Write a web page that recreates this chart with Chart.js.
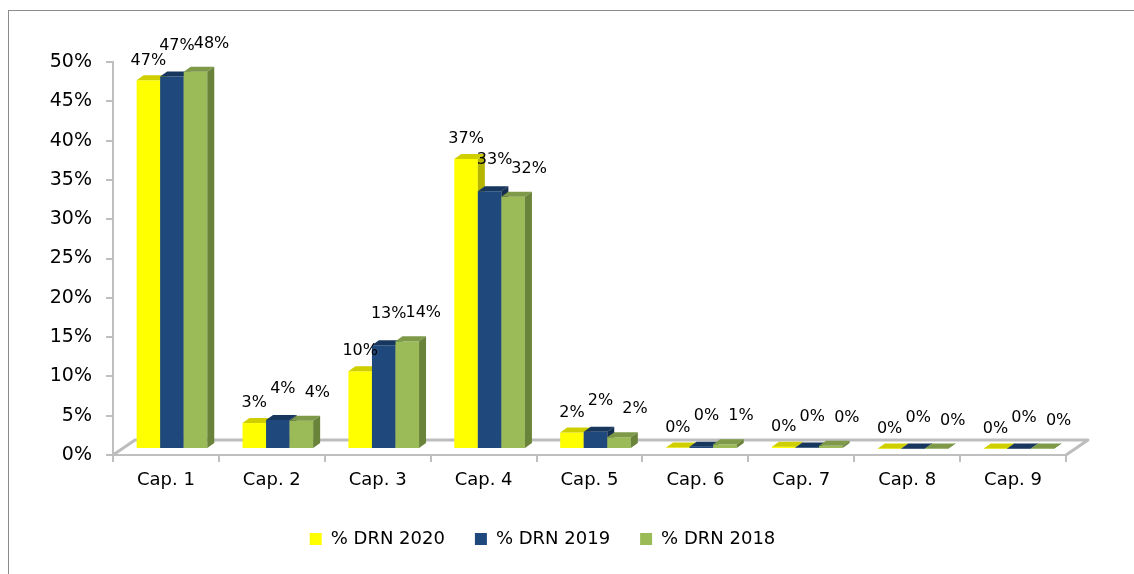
<!DOCTYPE html>
<html>
<head>
<meta charset="utf-8">
<script src="https://cdn.jsdelivr.net/npm/chart.js@4.4.1/dist/chart.umd.min.js"></script>
<style>
  html, body { margin: 0; padding: 0; background: #fff; overflow: hidden; }
  #frame { position: absolute; left: 8px; top: 10px; width: 1200px; height: 700px; border: 1px solid #8c8c8c; }
  #wrap { position: absolute; left: 0; top: 0; width: 1134px; height: 574px; }
</style>
</head>
<body>
<div id="frame"></div>
<div id="wrap"><canvas id="chart" width="1134" height="574"></canvas></div>
<script>
// Datos (porcentaje de DRN por capítulo)
const categories = ['Cap. 1', 'Cap. 2', 'Cap. 3', 'Cap. 4', 'Cap. 5', 'Cap. 6', 'Cap. 7', 'Cap. 8', 'Cap. 9'];
const seriesNames = ['% DRN 2020', '% DRN 2019', '% DRN 2018'];
const drn2020 = [46.9, 3.3, 9.9, 36.9, 2.1, 0.2, 0.3, 0.05, 0.05];
const drn2019 = [47.4, 3.7, 13.2, 32.8, 2.2, 0.3, 0.2, 0.05, 0.05];
const drn2018 = [48.0, 3.6, 13.7, 32.1, 1.5, 0.6, 0.4, 0.05, 0.05];
const yMin = 0, yMax = 50, yStep = 5;

// Colores: frente, tapa, lateral
const front = ['#FFFF00', '#1F497D', '#9BBB59'];
const top3d = ['#CFCF00', '#17375E', '#7E9A48'];
const side3d = ['#B5B500', '#132E4F', '#6A833A'];

// Desplazamientos para el efecto 3D
const DEPTH_X = 7, DEPTH_Y = 5;
const FLOOR_X = 22, FLOOR_Y = 15;
const SHIFT_X = 6, SHIFT_Y = -6;
const labelOffsets = [{ dx: 0, dy: -20 }, { dx: 5, dy: -31 }, { dx: 16, dy: -28 }];

const fontFamily = '"DejaVu Sans", Verdana, sans-serif';

// Plugin: piso 3D y barras con tapa y lateral
const bars3d = {
  id: 'bars3d',
  beforeDatasetsDraw(chart) {
    const ctx = chart.ctx;
    const a = chart.chartArea;
    ctx.save();
    ctx.beginPath();
    ctx.moveTo(a.left, a.bottom);
    ctx.lineTo(a.left + FLOOR_X, a.bottom - FLOOR_Y);
    ctx.lineTo(a.right + FLOOR_X, a.bottom - FLOOR_Y);
    ctx.lineTo(a.right, a.bottom);
    ctx.strokeStyle = '#bdbdbd';
    ctx.lineWidth = 3;
    ctx.lineJoin = 'round';
    ctx.stroke();
    ctx.restore();

    ctx.save();
    ctx.translate(SHIFT_X, SHIFT_Y);
    const metas = chart.data.datasets.map((d, i) => chart.getDatasetMeta(i));
    for (let j = 0; j < categories.length; j++) {
      metas.forEach((meta, i) => {
        const bar = meta.data[j];
        bar.draw(ctx);
        const { x, y, base, width } = bar.getProps(['x', 'y', 'base', 'width'], true);
        const l = x - width / 2, r = x + width / 2;
        ctx.fillStyle = top3d[i];
        ctx.beginPath();
        ctx.moveTo(l, y);
        ctx.lineTo(l + DEPTH_X, y - DEPTH_Y);
        ctx.lineTo(r + DEPTH_X, y - DEPTH_Y);
        ctx.lineTo(r, y);
        ctx.closePath();
        ctx.fill();
        ctx.fillStyle = side3d[i];
        ctx.beginPath();
        ctx.moveTo(r, y);
        ctx.lineTo(r + DEPTH_X, y - DEPTH_Y);
        ctx.lineTo(r + DEPTH_X, base - DEPTH_Y);
        ctx.lineTo(r, base);
        ctx.closePath();
        ctx.fill();
      });
    }
    ctx.restore();
    return false;
  },
  afterDraw(chart) {
    const ctx = chart.ctx;
    ctx.save();
    ctx.font = '16px ' + fontFamily;
    ctx.fillStyle = '#000';
    ctx.textAlign = 'center';
    ctx.textBaseline = 'middle';
    chart.data.datasets.forEach((ds, i) => {
      chart.getDatasetMeta(i).data.forEach((bar, j) => {
        const txt = Math.round(ds.data[j]) + '%';
        ctx.fillText(txt, bar.x + SHIFT_X + labelOffsets[i].dx, bar.y + SHIFT_Y + labelOffsets[i].dy);
      });
    });
    ctx.restore();
  }
};

const ctx = document.getElementById('chart').getContext('2d');
new Chart(ctx, {
  type: 'bar',
  data: {
    labels: categories,
    datasets: [
      { label: seriesNames[0], data: drn2020, backgroundColor: front[0], borderWidth: 0 },
      { label: seriesNames[1], data: drn2019, backgroundColor: front[1], borderWidth: 0 },
      { label: seriesNames[2], data: drn2018, backgroundColor: front[2], borderWidth: 0 }
    ]
  },
  options: {
    responsive: false,
    animation: false,
    devicePixelRatio: 1,
    categoryPercentage: 0.667,
    barPercentage: 1,
    layout: { padding: { left: 19, right: 68, top: 62, bottom: 16 } },
    plugins: {
      tooltip: { enabled: false },
      legend: {
        position: 'bottom',
        labels: {
          boxWidth: 12,
          boxHeight: 12,
          padding: 30,
          color: '#000',
          font: { family: fontFamily, size: 18 }
        }
      }
    },
    scales: {
      x: {
        afterFit(scale) { scale.height = 45; },
        grid: { drawOnChartArea: false, drawTicks: true, tickLength: 7, color: '#bfbfbf', lineWidth: 2 },
        border: { color: '#bfbfbf', width: 2 },
        ticks: { color: '#000', padding: 8, font: { family: fontFamily, size: 18 } }
      },
      y: {
        min: yMin,
        max: yMax,
        afterFit(scale) { scale.width = 94; },
        grid: { drawOnChartArea: false, drawTicks: true, tickLength: 7, color: '#bfbfbf', lineWidth: 2 },
        border: { color: '#bfbfbf', width: 2 },
        ticks: {
          stepSize: yStep,
          color: '#000',
          padding: 14,
          font: { family: fontFamily, size: 19 },
          callback: v => v + '%'
        }
      }
    }
  },
  plugins: [bars3d]
});
</script>
</body>
</html>
